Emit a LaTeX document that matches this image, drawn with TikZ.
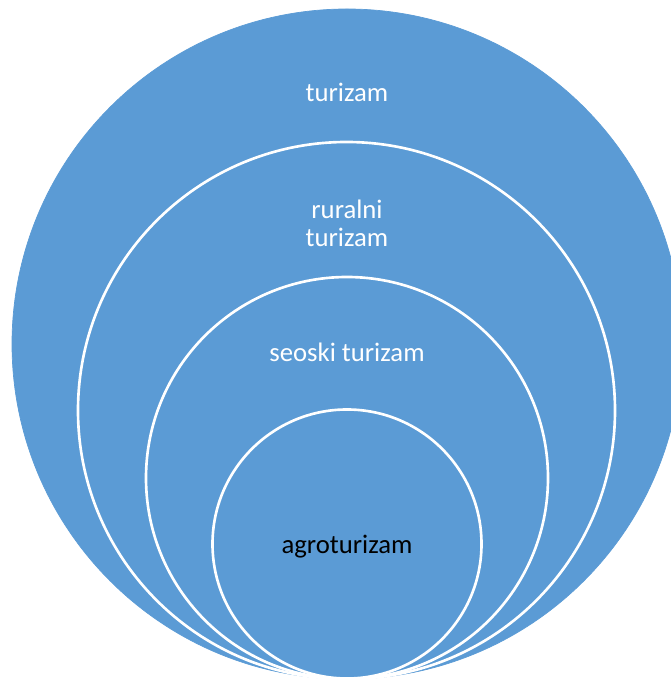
\documentclass[tikz,border=0pt]{standalone}
\usepackage{fontspec}
\setmainfont{Carlito}
\usepackage{tikz}
\usepackage{color}
\definecolor{ringblue}{HTML}{5B9BD5}

\begin{document}
\begin{tikzpicture}[%
      x=0.02cm, y=0.02cm,
      label/.style={font=\fontsize{15.2}{15.9}\selectfont, align=center},
      ]
      \useasboundingbox (0,0) rectangle (671,679);
      \clip (0,0) rectangle (671,679);

      \filldraw [color=ringblue] (347,335) circle (335);
      \filldraw [fill=ringblue, draw=white, line width=1.5pt] (346.5,268.5) circle (268.5);
      \filldraw [fill=ringblue, draw=white, line width=1.5pt] (347,201) circle (201);
      \filldraw [fill=ringblue, draw=white, line width=1.5pt] (347,135) circle (134.5);

      \node [label, text=white] (tur) at (347,587) {turizam};
      \node [label, text=white] (rur) at (347,456) {ruralni\\turizam};
      \node [label, text=white] (seo) at (347,327) {seoski turizam};
      \node [label, text=black] (agro) at (347,132) {agroturizam};
      \end{tikzpicture}
\end{document}
